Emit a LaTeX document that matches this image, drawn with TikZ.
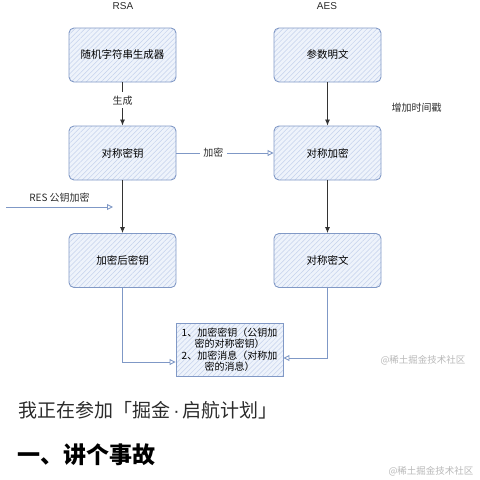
\documentclass[tikz,border=0pt]{standalone}
\usepackage{fontspec}
\setmainfont{Noto Sans CJK SC}
\newfontfamily\latinfont{Liberation Sans}
\usetikzlibrary{arrows.meta,patterns.meta}
\definecolor{boxline}{HTML}{8199C6}
\definecolor{boxfill}{HTML}{EEF3FB}
\definecolor{hatch}{HTML}{C4D1EC}
\definecolor{flow}{HTML}{7F98C6}
\definecolor{mark}{HTML}{B8B8B8}
\definecolor{body}{HTML}{2B2B2B}
\tikzset{
  stage/.style={draw=boxline, line width=0.9pt, rounded corners=5pt,
    preaction={fill=boxfill},
    pattern={Lines[angle=45,distance=3.5pt,line width=0.5pt]}, pattern color=hatch,
    minimum width=107pt, minimum height=54pt, inner sep=0pt,
    font=\fontsize{10.5}{12}\selectfont},
  note/.style={stage, rounded corners=0pt, minimum height=53pt,
    align=center, text width=107pt, font=\fontsize{10}{11.5}\selectfont},
  lbl/.style={font=\fontsize{10}{12}\selectfont, text=body},
  solid arrow/.style={-{Latex[length=6pt,width=5pt]}, line width=0.8pt, black!80},
  flow arrow/.style={-{Triangle[open,length=6pt,width=6pt]}, line width=0.9pt, flow},
}
\begin{document}
\begin{tikzpicture}[x=1pt,y=-1pt]
  \useasboundingbox (0,0) rectangle (480,480);
  \clip (0,0) rectangle (480,480);
  \draw
    (123,6) node[lbl] (rsa){\latinfont RSA}
    (327,6) node[lbl] (aes){\latinfont AES}
    (122.5,55) node[stage] (gen){随机字符串生成器}
    (327.5,55) node[stage] (plain){参数明文}
    (122.5,153) node[stage] (key){对称密钥}
    (327.5,153) node[stage] (enc){对称加密}
    (122.5,260.5) node[stage] (enckey){加密后密钥}
    (327.5,260.5) node[stage] (cipher){对称密文}
    (229.5,349.5) node[note] (msg){1、加密密钥（公钥加\\密的对称密钥）\\2、加密消息（对称加\\密的消息）}
    (416.5,108) node[lbl] (stamp){增加时间戳};
  \coordinate (res) at (6,207);
  \coordinate (resend) at (113,207);
  \begin{scope}[solid arrow]
    \draw (gen) -- node[lbl, fill=white, pos=0.42]{生成} (key);
    \draw (plain) -- (enc);
    \draw (key) -- (enckey);
    \draw (enc) -- (cipher);
  \end{scope}
  \begin{scope}[flow arrow]
    \draw (key) -- node[lbl, fill=white, pos=0.38]{加密} (enc);
    \draw (res) -- node[lbl, above=1pt]{RES 公钥加密} (resend);
    \draw (enckey.south) |- ([yshift=-12.5pt]msg.west);
    \draw (cipher.south) |- ([yshift=-8.5pt]msg.east);
  \end{scope}
  \node[text=mark, font=\fontsize{9.5}{11}\selectfont] (mark1) at (423,360) {@稀土掘金技术社区};
  \node[text=mark, font=\fontsize{9.5}{11}\selectfont] (mark2) at (431,471) {@稀土掘金技术社区};
  \node[anchor=west, inner sep=0pt, text=body, font=\fontsize{19}{21}\selectfont] (join) at (18,410) {我正在参加「掘金{\latinfont\,·\,}启航计划」};
  \node[anchor=west, inner sep=0pt, text=black, font=\fontsize{23}{25}\selectfont\bfseries] (story) at (17,455) {一、讲个事故};
\end{tikzpicture}
\end{document}
